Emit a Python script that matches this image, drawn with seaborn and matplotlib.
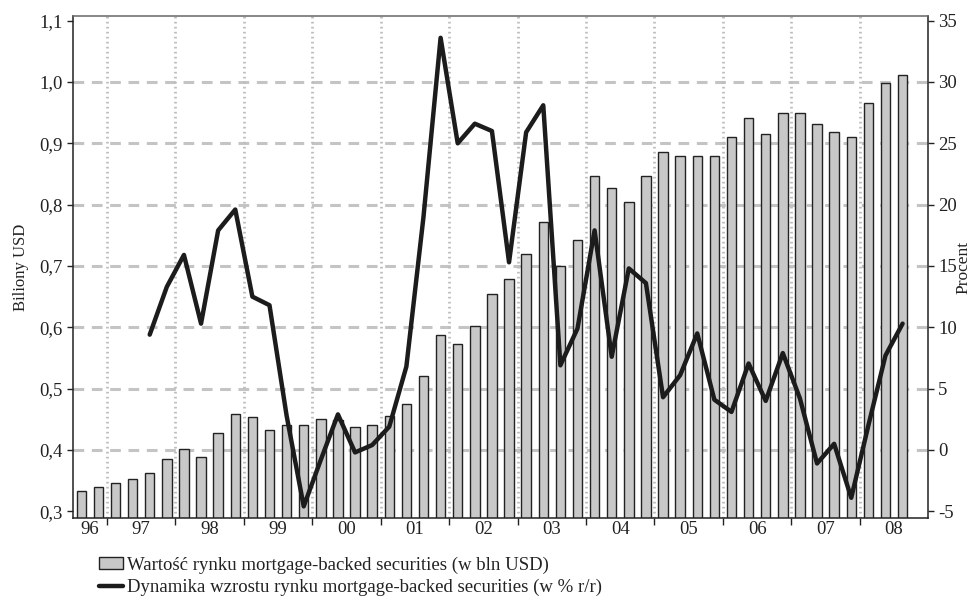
import matplotlib
matplotlib.use("Agg")
import numpy as np
import pandas as pd
import seaborn as sns
import matplotlib.pyplot as plt
from matplotlib.patches import Patch
from matplotlib.lines import Line2D
from matplotlib.ticker import FixedLocator, FuncFormatter

# quarters shown on the axis (last slot is left empty)
years = ["96", "97", "98", "99", "00", "01", "02", "03", "04", "05", "06", "07", "08"]
quarters = ["96Q3", "96Q4"] + [f"{y}Q{q}" for y in years[1:] for q in range(1, 5)]

# MBS market value, trillions USD (96Q3 .. 08Q3)
mbs_value = [
    0.333, 0.339,
    0.346, 0.352, 0.362, 0.385,
    0.401, 0.388, 0.427, 0.459,
    0.453, 0.433, 0.440, 0.440,
    0.450, 0.449, 0.437, 0.440,
    0.456, 0.475, 0.520, 0.588,
    0.573, 0.602, 0.655, 0.678,
    0.720, 0.772, 0.700, 0.743,
    0.847, 0.827, 0.804, 0.847,
    0.885, 0.879, 0.879, 0.879,
    0.911, 0.941, 0.915, 0.950,
    0.950, 0.931, 0.918, 0.911,
    0.966, 0.998, 1.011,
]

# y/y growth in % (97Q3 .. 08Q3)
growth = [
    9.4, 13.3,
    15.9, 10.3, 17.9, 19.6,
    12.5, 11.8, 2.8, -4.6,
    -0.8, 2.9, -0.2, 0.4,
    1.9, 6.8, 19.0, 33.6,
    25.0, 26.6, 26.0, 15.3,
    25.9, 28.1, 6.9, 9.9,
    17.9, 7.6, 14.8, 13.6,
    4.3, 6.1, 9.5, 4.1,
    3.1, 7.05, 4.0, 7.9,
    4.2, -1.1, 0.5, -3.9,
    2.0, 7.7, 10.3,
]

bars = pd.DataFrame({"kwartal": quarters[:len(mbs_value)], "wartosc": mbs_value})
line = pd.DataFrame({"pos": np.arange(4, 4 + len(growth)), "dynamika": growth})

sns.set_style("white")
plt.rcParams["font.family"] = ["Liberation Serif", "DejaVu Serif"]
plt.rcParams["axes.unicode_minus"] = False

fig = plt.figure(figsize=(9.8, 5.98), dpi=100)
ax = fig.add_axes([0.0742, 0.1333, 0.873, 0.8404])

bar_color = "#c8c8c8"
edge = "#222222"
txt = "#222222"
sns.barplot(data=bars, x="kwartal", y="wartosc", order=quarters, color=bar_color,
            saturation=1, width=0.55, edgecolor=edge, linewidth=1.0, ax=ax)

ax.set_xlim(-0.5, len(quarters) - 0.5)
ax.set_ylim(0.2886, 1.108)

# year boundaries (major) and year labels (minor)
bounds = [1.5 + 4 * k for k in range(12)]
centers = [0.5] + [3.5 + 4 * k for k in range(11)] + [47.5]
ax.xaxis.set_major_locator(FixedLocator(bounds))
ax.xaxis.set_major_formatter(FuncFormatter(lambda v, p: ""))
ax.xaxis.set_minor_locator(FixedLocator(centers))
ax.set_xticklabels(years, minor=True)
ax.tick_params(axis="x", which="major", direction="out", length=5, width=1, color=txt, bottom=True)
ax.tick_params(axis="x", which="minor", length=0, labelsize=13.5, pad=2, colors=txt, bottom=True)
ax.set_xlabel("")

yt = [0.3, 0.4, 0.5, 0.6, 0.7, 0.8, 0.9, 1.0, 1.1]
ax.yaxis.set_major_locator(FixedLocator(yt))
ax.yaxis.set_major_formatter(FuncFormatter(lambda v, p: f"{v:.1f}".replace(".", ",")))
ax.tick_params(axis="y", direction="out", length=4, width=1, labelsize=13.5, colors=txt, left=True, pad=3)
ax.set_ylabel("Biliony USD", fontsize=12, color=txt, labelpad=8)

# grid: dashed horizontals, dotted verticals at year boundaries
for v in yt[1:-1]:
    ax.axhline(v, color="#c4c4c4", lw=2.2, ls=(0, (3.5, 2.5)), zorder=0)
for b in bounds:
    ax.axvline(b, color="#bdbdbd", lw=2.0, ls=(0, (0.6, 1.2)), zorder=0)
ax.set_axisbelow(True)

for s in ["left", "right", "bottom"]:
    ax.spines[s].set_color(txt)
    ax.spines[s].set_linewidth(1.1)
ax.spines["top"].set_color("#666666")
ax.spines["top"].set_linewidth(1.1)

ax2 = ax.twinx()
sns.lineplot(data=line, x="pos", y="dynamika", color="#1c1c1c", lw=3.2, ax=ax2)
ax2.set_ylim(-5.57, 35.4)
ax2.yaxis.set_major_locator(FixedLocator([-5, 0, 5, 10, 15, 20, 25, 30, 35]))
ax2.yaxis.set_major_formatter(FuncFormatter(lambda v, p: f"{int(v)}"))
ax2.tick_params(axis="y", direction="out", length=4, width=1, labelsize=13.5, colors=txt, right=True, pad=3)
ax2.set_ylabel("Procent", fontsize=12.5, color=txt)
ax2.yaxis.set_label_coords(1.032, 0.5)
ax2.set_xlabel("")
for s in ax2.spines.values():
    s.set_visible(False)

handles = [
    Patch(facecolor=bar_color, edgecolor=edge, linewidth=1.0),
    Line2D([0], [0], color="#1c1c1c", lw=3.2),
]
labels = [
    "Wartość rynku mortgage-backed securities (w bln USD)",
    "Dynamika wzrostu rynku mortgage-backed securities (w % r/r)",
]
fig.legend(handles, labels, loc="lower left", bbox_to_anchor=(0.093, -0.01), frameon=False,
           fontsize=13.5, handlelength=1.3, handleheight=0.6, handletextpad=0.2,
           labelspacing=0.28, borderaxespad=0, labelcolor=txt)

fig.savefig("out.png", dpi=100)
